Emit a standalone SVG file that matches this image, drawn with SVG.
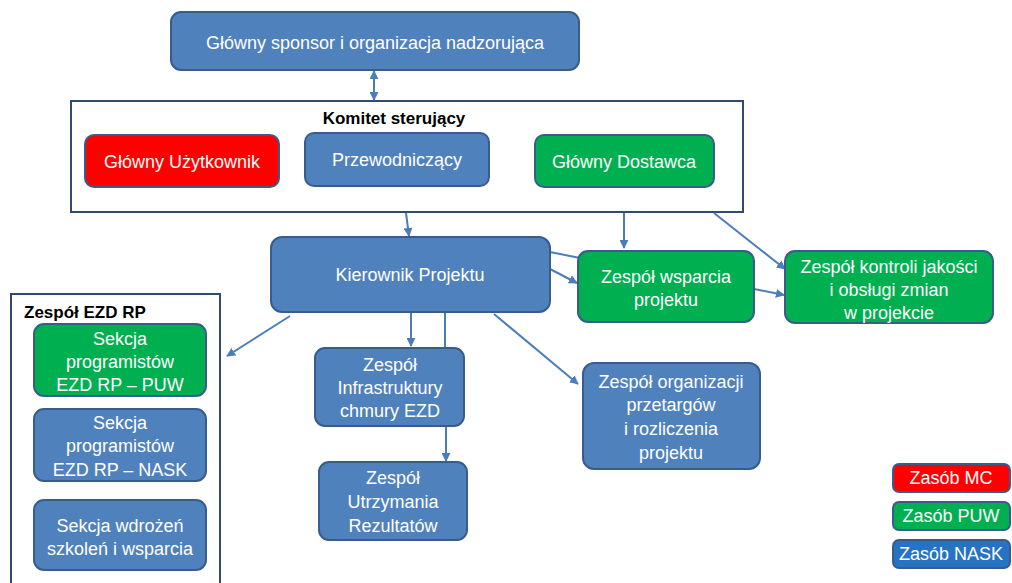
<svg xmlns="http://www.w3.org/2000/svg" width="1012" height="583" viewBox="0 0 1012 583">
  <defs>
    <style>
      .blue { fill: #4f81bd; stroke: #385d8a; stroke-width: 2; }
      .green { fill: #00b050; stroke: #385d8a; stroke-width: 2; }
      .red { fill: #ff0000; stroke: #385d8a; stroke-width: 2; }
      .nask { fill: #2673c4; stroke: #385d8a; stroke-width: 2; }
      .frame { fill: #ffffff; stroke: #2f4b6e; stroke-width: 2; }
      .t { font-family: "Liberation Sans", Arial, sans-serif; font-size: 18px; fill: #ffffff; text-anchor: middle; }
      .lg { font-family: "Liberation Sans", Arial, sans-serif; font-size: 18px; fill: #ffffff; text-anchor: middle; }
      .title { font-family: "Liberation Sans", Arial, sans-serif; font-size: 17px; font-weight: bold; fill: #000000; }
      .conn { stroke: #4a7ebb; stroke-width: 2; fill: none; }
    </style>
    <marker id="arr" viewBox="0 0 10 10" refX="9" refY="5" markerWidth="9" markerHeight="9" markerUnits="userSpaceOnUse" orient="auto-start-reverse">
      <path d="M0,0 L10,5 L0,10 z" fill="#4a7ebb"/>
    </marker>
  </defs>

  <rect width="1012" height="583" fill="#ffffff"/>

  <!-- container frames -->
  <g id="komitet">
    <rect class="frame" x="71" y="101" width="672" height="111"/>
    <text class="title" x="394" y="124" text-anchor="middle">Komitet sterujący</text>
  </g>
  <g id="zespol-ezd">
    <rect class="frame" x="11" y="294" width="209" height="295"/>
    <text class="title" x="24" y="318">Zespół EZD RP</text>
  </g>

  <!-- connectors -->
  <g id="connectors">
    <line class="conn" x1="374" y1="71" x2="374" y2="100" marker-start="url(#arr)" marker-end="url(#arr)"/>
    <line class="conn" x1="406" y1="213" x2="409" y2="236" marker-end="url(#arr)"/>
    <line class="conn" x1="624" y1="213" x2="624" y2="248" marker-end="url(#arr)"/>
    <line class="conn" x1="714" y1="213" x2="785" y2="269" marker-end="url(#arr)"/>
    <line class="conn" x1="550" y1="252" x2="580" y2="258"/>
    <line class="conn" x1="550" y1="269" x2="577" y2="283" marker-end="url(#arr)"/>
    <line class="conn" x1="754" y1="289" x2="784" y2="295" marker-end="url(#arr)"/>
    <line class="conn" x1="290" y1="316" x2="227" y2="356" marker-end="url(#arr)"/>
    <line class="conn" x1="411" y1="313" x2="411" y2="346" marker-end="url(#arr)"/>
    <line class="conn" x1="445" y1="313" x2="445" y2="348"/>
    <line class="conn" x1="446" y1="427" x2="446" y2="461" marker-end="url(#arr)"/>
    <line class="conn" x1="494" y1="314" x2="578" y2="384" marker-end="url(#arr)"/>
  </g>

  <!-- nodes -->
  <g id="sponsor">
    <rect class="blue" x="171" y="12" width="408" height="58" rx="10"/>
    <text class="t" x="375" y="49">Główny sponsor i organizacja nadzorująca</text>
  </g>
  <g id="uzytkownik">
    <rect class="red" x="85" y="135" width="194" height="52" rx="9"/>
    <text class="t" x="182" y="168">Główny Użytkownik</text>
  </g>
  <g id="przewodniczacy">
    <rect class="blue" x="305" y="133" width="184" height="53" rx="9"/>
    <text class="t" x="397" y="166">Przewodniczący</text>
  </g>
  <g id="dostawca">
    <rect class="green" x="535" y="135" width="179" height="52" rx="9"/>
    <text class="t" x="624" y="168">Główny Dostawca</text>
  </g>
  <g id="kierownik">
    <rect class="blue" x="271" y="237" width="279" height="75" rx="11"/>
    <text class="t" x="410" y="281">Kierownik Projektu</text>
  </g>
  <g id="wsparcie">
    <rect class="green" x="578" y="251" width="176" height="71" rx="10"/>
    <text class="t" x="666" y="283">Zespół wsparcia</text>
    <text class="t" x="666" y="306">projektu</text>
  </g>
  <g id="kontrola">
    <rect class="green" x="785" y="251" width="208" height="72" rx="10"/>
    <text class="t" x="889" y="273">Zespół kontroli jakości</text>
    <text class="t" x="889" y="296">i obsługi zmian</text>
    <text class="t" x="889" y="319">w projekcie</text>
  </g>
  <g id="sekcja-puw">
    <rect class="green" x="34" y="324" width="172" height="72" rx="10"/>
    <text class="t" x="120" y="345">Sekcja</text>
    <text class="t" x="120" y="368">programistów</text>
    <text class="t" x="120" y="391">EZD RP – PUW</text>
  </g>
  <g id="sekcja-nask">
    <rect class="blue" x="34" y="409" width="172" height="72" rx="10"/>
    <text class="t" x="120" y="429">Sekcja</text>
    <text class="t" x="120" y="452">programistów</text>
    <text class="t" x="120" y="476">EZD RP – NASK</text>
  </g>
  <g id="sekcja-wdrozen">
    <rect class="blue" x="34" y="500" width="172" height="70" rx="10"/>
    <text class="t" x="120" y="532">Sekcja wdrożeń</text>
    <text class="t" x="120" y="555">szkoleń i wsparcia</text>
  </g>
  <g id="infrastruktura">
    <rect class="blue" x="315" y="348" width="149" height="78" rx="10"/>
    <text class="t" x="390" y="371">Zespół</text>
    <text class="t" x="390" y="394">Infrastruktury</text>
    <text class="t" x="390" y="417">chmury EZD</text>
  </g>
  <g id="utrzymanie">
    <rect class="blue" x="319" y="462" width="148" height="78" rx="10"/>
    <text class="t" x="393" y="484">Zespół</text>
    <text class="t" x="393" y="508">Utrzymania</text>
    <text class="t" x="393" y="532">Rezultatów</text>
  </g>
  <g id="przetargi">
    <rect class="blue" x="583" y="363" width="177" height="106" rx="11"/>
    <text class="t" x="671" y="388">Zespół organizacji</text>
    <text class="t" x="671" y="411">przetargów</text>
    <text class="t" x="671" y="435">i rozliczenia</text>
    <text class="t" x="671" y="459">projektu</text>
  </g>

  <!-- legend -->
  <g id="legend-mc">
    <rect class="red" x="893" y="464" width="117" height="28" rx="6"/>
    <text class="lg" x="951" y="484">Zasób MC</text>
  </g>
  <g id="legend-puw">
    <rect class="green" x="893" y="502" width="117" height="28" rx="6"/>
    <text class="lg" x="951" y="522">Zasób PUW</text>
  </g>
  <g id="legend-nask">
    <rect class="nask" x="893" y="540" width="117" height="28" rx="6"/>
    <text class="lg" x="951" y="560">Zasób NASK</text>
  </g>
</svg>
